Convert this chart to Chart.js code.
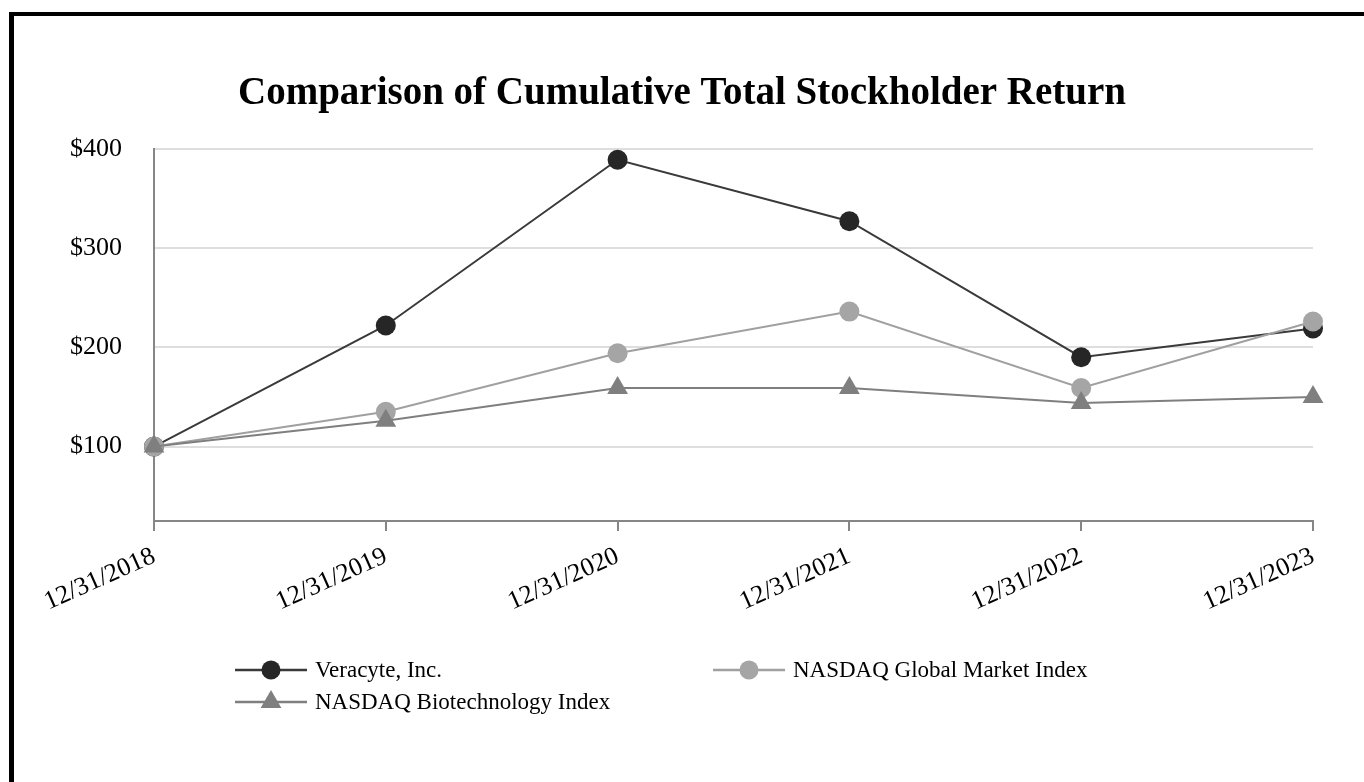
<!DOCTYPE html>
<html lang="en">
<head>
<meta charset="UTF-8">
<title>Comparison of Cumulative Total Stockholder Return</title>
<style>
  html, body { margin: 0; padding: 0; background: #fff; }
  #wrap { position: relative; width: 1364px; height: 782px; overflow: hidden; }
  #frame { position: absolute; left: 9px; top: 12px; width: 2000px; height: 2000px;
           border-left: 5px solid #000; border-top: 4px solid #000; }
  #myCanvas { position: absolute; left: 0; top: 0; }
</style>
</head>
<body>
<div id="wrap">
  <div id="frame"></div>
  <canvas id="myCanvas" width="1364" height="782"></canvas>
</div>

<script src="https://cdn.jsdelivr.net/npm/chart.js@4/dist/chart.umd.min.js"></script>
<script>
// data
const years = ['12/31/2018', '12/31/2019', '12/31/2020', '12/31/2021', '12/31/2022', '12/31/2023'];
const veracyte = [100, 222, 389, 327, 190, 219];
const nasdaqGlobal = [100, 135, 194, 236, 159, 226];
const nasdaqBiotech = [100, 126, 159, 159, 144, 150];
const yTicks = [100, 200, 300, 400];

const serif = "'Liberation Serif', 'Times New Roman', serif";

// two-column legend like the original
const legendSpots = [[235, 670], [713, 670], [235, 702]];
const legendPlugin = {
    id: 'gridLegend',
    afterDraw(chart) {
        const ctx = chart.ctx;
        chart.data.datasets.forEach((ds, i) => {
            const [x, y] = legendSpots[i];
            ctx.save();
            ctx.strokeStyle = ds.borderColor;
            ctx.lineWidth = 2.5;
            ctx.beginPath();
            ctx.moveTo(x, y);
            ctx.lineTo(x + 72, y);
            ctx.stroke();
            ctx.fillStyle = ds.pointBackgroundColor;
            Chart.helpers.drawPoint(ctx, {
                pointStyle: ds.pointStyle,
                radius: ds.pointStyle === 'triangle' ? 12 : 9.5,
                borderWidth: 0,
                rotation: 0
            }, x + 36, y);
            ctx.fillStyle = '#000';
            ctx.font = '23px ' + serif;
            ctx.textBaseline = 'middle';
            ctx.textAlign = 'left';
            ctx.fillText(ds.label, x + 80, y + 1);
            ctx.restore();
        });
    }
};

let ctx = document.getElementById('myCanvas').getContext('2d');
var chart = new Chart(ctx, {
    type: 'line',
    data: {
        labels: years,
        datasets: [{
            label: 'Veracyte, Inc.',
            data: veracyte,
            borderColor: '#3a3a3a',
            pointBackgroundColor: '#262626',
            pointBorderWidth: 0,
            pointRadius: 10,
            pointStyle: 'circle',
            borderWidth: 2,
            order: 2
        }, {
            label: 'NASDAQ Global Market Index',
            data: nasdaqGlobal,
            borderColor: '#a0a0a0',
            pointBackgroundColor: '#a5a5a5',
            pointBorderWidth: 0,
            pointRadius: 10,
            pointStyle: 'circle',
            borderWidth: 2,
            order: 1
        }, {
            label: 'NASDAQ Biotechnology Index',
            data: nasdaqBiotech,
            borderColor: '#7f7f7f',
            pointBackgroundColor: '#7f7f7f',
            pointBorderWidth: 0,
            pointRadius: 12,
            pointStyle: 'triangle',
            borderWidth: 2,
            order: 0
        }]
    },
    options: {
        responsive: false,
        animation: false,
        devicePixelRatio: 1,
        layout: { padding: { left: 51, right: 51, top: 0, bottom: 0 } },
        plugins: {
            legend: { display: false },
            tooltip: { enabled: false },
            title: {
                display: true,
                text: 'Comparison of Cumulative Total Stockholder Return',
                color: '#000',
                font: { family: serif, size: 39, weight: 'bold', lineHeight: 1.2 },
                padding: { top: 71, bottom: 31 }
            }
        },
        scales: {
            x: {
                afterFit: s => { s.height = 782 - 521; },
                border: { color: '#868686', width: 2 },
                grid: { drawOnChartArea: false, drawTicks: true, tickLength: 10, color: '#868686', lineWidth: 2 },
                ticks: {
                    autoSkip: false, maxRotation: 24, minRotation: 24, padding: 10,
                    color: '#000', font: { family: serif, size: 26 }
                }
            },
            y: {
                min: 25,
                max: 400,
                afterBuildTicks: s => { s.ticks = yTicks.map(v => ({ value: v })); },
                afterFit: s => { s.width = 103; },
                border: { color: '#868686', width: 2 },
                grid: { color: '#dedede', lineWidth: 2, drawTicks: false },
                ticks: {
                    padding: 32, color: '#000', font: { family: serif, size: 26 },
                    callback: v => '$' + v
                }
            }
        }
    },
    plugins: [legendPlugin]
});
</script>
</body>
</html>
